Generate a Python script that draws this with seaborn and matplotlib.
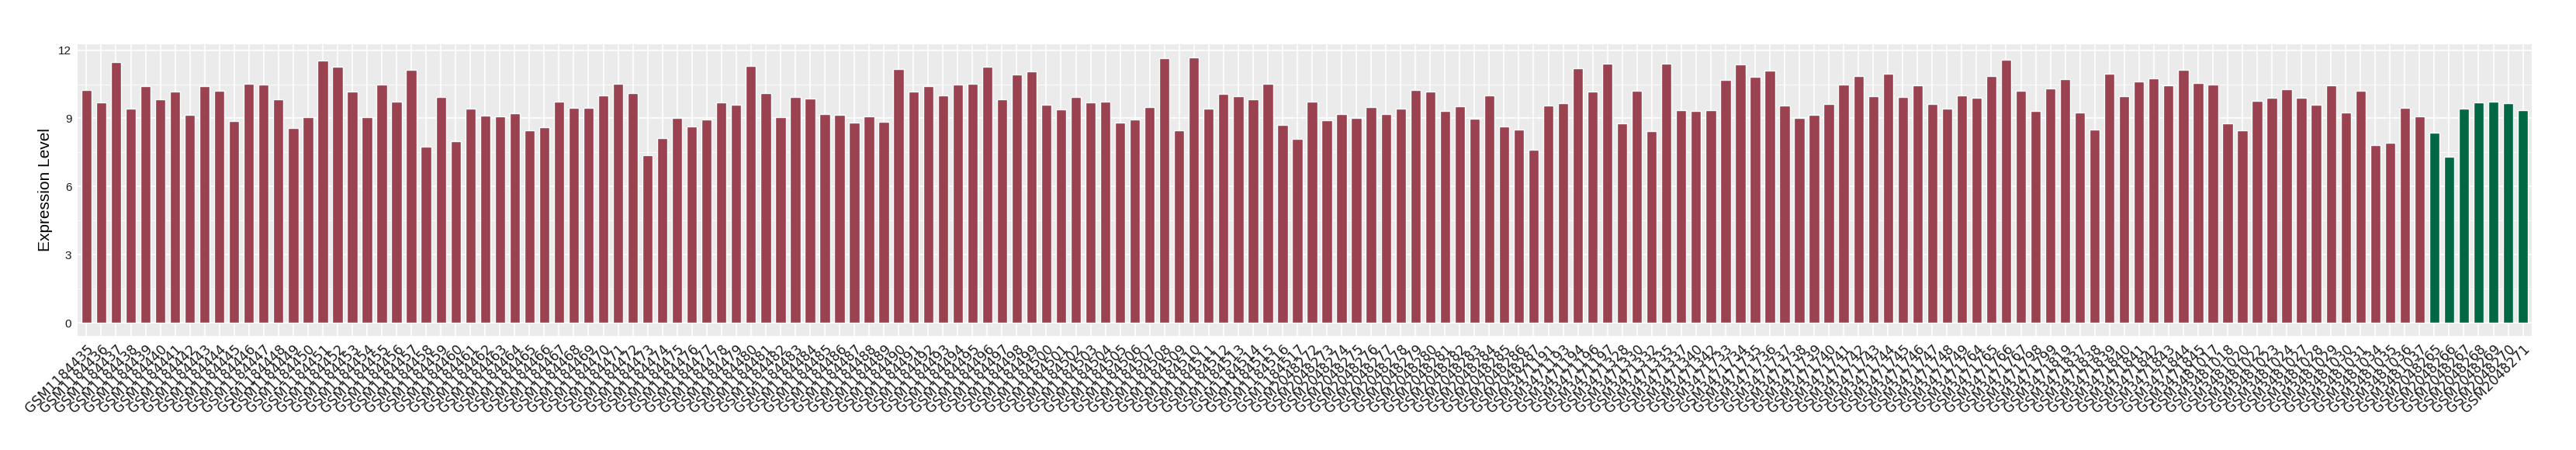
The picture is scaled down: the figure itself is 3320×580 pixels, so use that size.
### Bibliotecas
import numpy as np
import pandas as pd
import matplotlib
matplotlib.use("Agg")
import matplotlib.pyplot as plt
from matplotlib.ticker import MultipleLocator
import seaborn as sns

### Amostras (eixo x)
amostras_1184 = [f"GSM{n}" for n in range(1184435, 1184518)]
amostras_2048a = [f"GSM{n}" for n in range(2048272, 2048288)]
amostras_3471 = ["GSM3471191", "GSM3471193", "GSM3471194", "GSM3471196", "GSM3471197",
                 "GSM3471328", "GSM3471330", "GSM3471332", "GSM3471335", "GSM3471337",
                 "GSM3471340", "GSM3471342"] + \
                [f"GSM{n}" for n in range(3471733, 3471750)] + \
                ["GSM3471764", "GSM3471765", "GSM3471766", "GSM3471767",
                 "GSM3471798", "GSM3471799", "GSM3471819"] + \
                [f"GSM{n}" for n in range(3471837, 3471846)]
amostras_3481 = ["GSM3481017", "GSM3481018", "GSM3481020", "GSM3481022", "GSM3481023",
                 "GSM3481024", "GSM3481027", "GSM3481028", "GSM3481029", "GSM3481030",
                 "GSM3481031", "GSM3481034", "GSM3481035", "GSM3481036", "GSM3481037"]
amostras_2048b = [f"GSM{n}" for n in range(2048265, 2048272)]

### Níveis de expressão
expr_1184 = [10.24, 9.69, 11.46, 9.42, 10.41, 9.83, 10.17, 9.14, 10.41, 10.20,
             8.87, 10.51, 10.48, 9.83, 8.56, 9.04, 11.53, 11.26, 10.17, 9.04,
             10.48, 9.72, 11.12, 7.75, 9.93, 7.98, 9.42, 9.11, 9.08, 9.21,
             8.46, 8.60, 9.72, 9.45, 9.45, 10.00, 10.51, 10.10, 7.37, 8.12,
             9.01, 8.63, 8.94, 9.69, 9.59, 11.29, 10.10, 9.04, 9.93, 9.86,
             9.18, 9.14, 8.80, 9.08, 8.84, 11.16, 10.17, 10.41, 10.00, 10.48,
             10.51, 11.26, 9.83, 10.92, 11.06, 9.59, 9.38, 9.93, 9.69, 9.72,
             8.80, 8.94, 9.49, 11.64, 8.46, 11.67, 9.42, 10.07, 9.96, 9.83,
             10.51, 8.70, 8.09]
expr_2048a = [9.72, 8.91, 9.18, 9.01, 9.49, 9.18, 9.42, 10.24, 10.17, 9.32,
              9.52, 8.97, 10.00, 8.63, 8.50, 7.61]
expr_3471 = [9.55, 9.66, 11.19, 10.17, 11.40,
             8.77, 10.20, 8.43, 11.40, 9.35, 9.32, 9.35,
             10.68, 11.36, 10.82, 11.09, 9.55, 9.01, 9.14, 9.62, 10.48, 10.85,
             9.96, 10.95, 9.93, 10.44, 9.62, 9.42, 10.00,
             9.90, 10.85, 11.57, 10.20, 9.32, 10.30, 10.71,
             9.25, 8.50, 10.95, 9.96, 10.61, 10.75, 10.44, 11.12, 10.54]
expr_3481 = [10.48, 8.77, 8.46, 9.76, 9.90, 10.27, 9.90, 9.59, 10.44, 9.25,
             10.20, 7.81, 7.92, 9.45, 9.08]
expr_2048b = [8.36, 7.30, 9.42, 9.69, 9.72, 9.66, 9.35]

amostras = amostras_1184 + amostras_2048a + amostras_3471 + amostras_3481 + amostras_2048b
expressao = expr_1184 + expr_2048a + expr_3471 + expr_3481 + expr_2048b
grupo = ["outros"] * (len(amostras) - len(amostras_2048b)) + ["alvo"] * len(amostras_2048b)

dados = pd.DataFrame({"amostra": amostras, "expressao": expressao, "grupo": grupo})
cores = {"outros": "#9A4250", "alvo": "#026843"}

### Figura
sns.set_theme(style = "darkgrid", rc = {"axes.facecolor": "#EBEBEB", "grid.color": "white"})
plt.rcParams["font.family"] = ["Liberation Sans", "DejaVu Sans"]

fig = plt.figure(figsize = (33.2, 5.8), dpi = 100)
ax = fig.add_axes([100/3320, 1 - 433/580, (3263 - 100)/3320, (433 - 57)/580])

sns.barplot(data = dados, x = "amostra", y = "expressao", hue = "grupo", order = amostras,
            palette = cores, dodge = False, width = 0.7, legend = False, saturation = 1, ax = ax)

ax.set_xlim(-0.6, len(amostras) - 0.4)
ax.set_ylim(-0.58, 12.26)
ax.set_yticks([0, 3, 6, 9, 12])
ax.yaxis.set_minor_locator(MultipleLocator(1.5))
ax.grid(which = "major", color = "white", linewidth = 1.2)
ax.grid(which = "minor", axis = "y", color = "white", linewidth = 0.6)
ax.set_axisbelow(True)
for s in ax.spines.values():
    s.set_visible(False)

ax.tick_params(axis = "both", which = "major", length = 3.5, width = 0.9, color = "#333333",
               labelcolor = "#1a1a1a", pad = 2)
ax.tick_params(which = "minor", length = 0)
ax.tick_params(axis = "y", labelsize = 11)
ax.set_xticks(range(len(amostras)))
ax.set_xticklabels(amostras, rotation = 45, ha = "right", rotation_mode = "anchor",
                   fontsize = 12.5, family = ["DejaVu Sans"])
ax.set_xlabel("")
ax.set_ylabel("Expression Level", fontsize = 15, color = "black", labelpad = 5)

fig.savefig("out.png", dpi = 100)
